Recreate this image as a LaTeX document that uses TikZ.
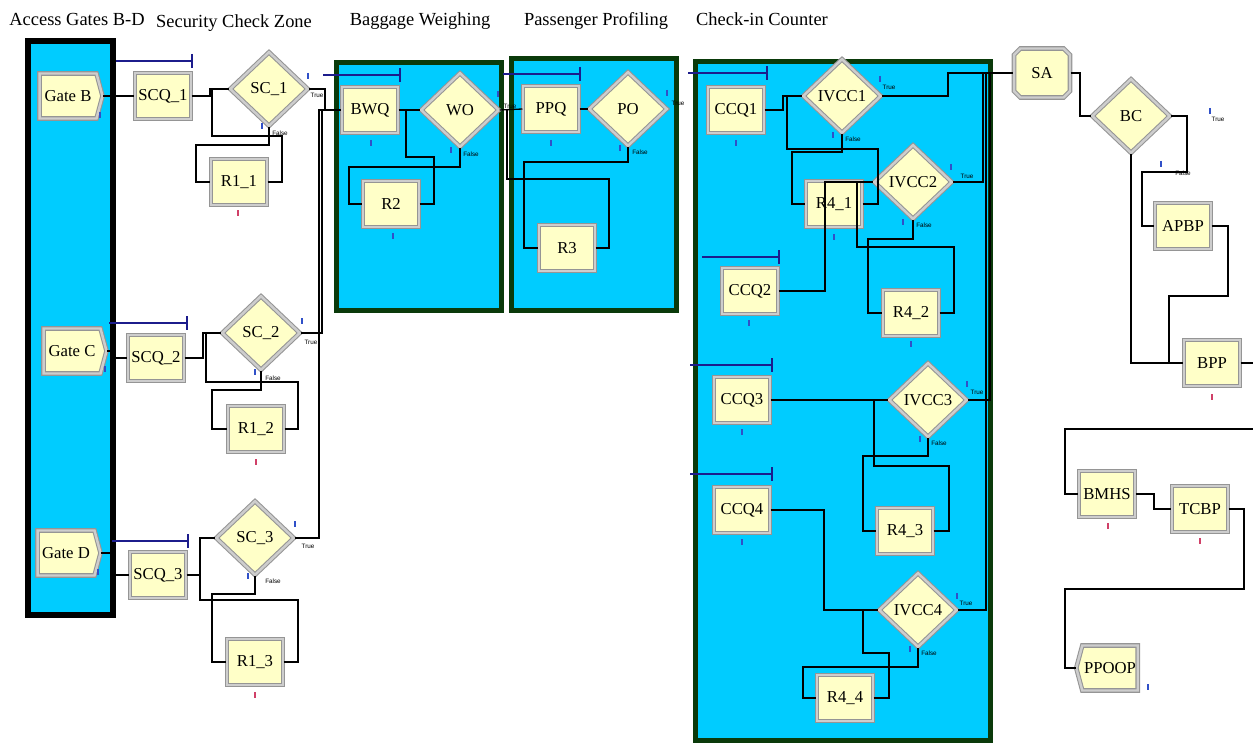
\documentclass[tikz,border=0pt]{standalone}
\usepackage{fontspec}
\setmainfont{Liberation Serif}
\setsansfont{Liberation Sans}
\usepackage{tikz}
\usetikzlibrary{shapes.geometric,shapes.symbols,shapes.misc}

\definecolor{zonecyan}{HTML}{00CCFF}
\definecolor{zonegreen}{HTML}{0A3A0A}
\definecolor{modyellow}{HTML}{FFFFC8}
\definecolor{modgray}{HTML}{959595}
\definecolor{modlight}{HTML}{CDCDCD}
\definecolor{qblue}{HTML}{1C1C8C}
\definecolor{mkblue}{HTML}{3050C8}
\definecolor{mkred}{HTML}{D04068}

\tikzset{
  modframe/.style={fill=modyellow,draw=modgray,double=modlight,double distance=1.4pt,line width=0.6pt,
    font=\fontsize{9.5}{10}\selectfont,inner sep=1pt},
  modbox/.style={modframe,rectangle,minimum width=1.12cm,minimum height=0.92cm},
  decbox/.style={modframe,diamond,minimum width=1.56cm,minimum height=1.48cm},
  gatebox/.style={modframe,signal,signal to=east,signal pointer angle=150,minimum width=1.26cm,minimum height=0.9cm},
  outbox/.style={modframe,signal,signal to=west,signal pointer angle=150,minimum width=1.22cm,minimum height=0.9cm},
  seizebox/.style={modframe,chamfered rectangle,chamfered rectangle xsep=1.8pt,chamfered rectangle ysep=1.8pt,minimum width=1.12cm,minimum height=0.98cm},
  wire/.style={draw=black,line width=0.75pt},
  qline/.style={draw=qblue,line width=0.7pt},
  zoneblack/.style={fill=zonecyan,draw=black,line width=0.12cm},
  zonegrn/.style={fill=zonecyan,draw=zonegreen,line width=0.1cm},
  title/.style={anchor=base,font=\fontsize{10.5}{12}\selectfont},
  tflab/.style={font=\sffamily\fontsize{3.6}{4}\selectfont,inner sep=0pt}
}

\begin{document}
\begin{tikzpicture}[x=0.02cm,y=-0.02cm]
\useasboundingbox (0,0) rectangle (1253,743);

\node[title] (tgates) at (77,26) {Access Gates B-D};
\node[title] (tsec) at (234,28) {Security Check Zone};
\node[title] (tbag) at (420,26) {Baggage Weighing};
\node[title] (tprof) at (596,26) {Passenger Profiling};
\node[title] (tcheck) at (762,26) {Check-in Counter};

\draw[zoneblack] (28,41) rectangle (113,615);
\draw[zonegrn] (336,63) rectangle (501,310);
\draw[zonegrn] (511,59) rectangle (676,310);
\draw[zonegrn] (695,62) rectangle (990,740);

\foreach\a/\b/\y in{116/192/61,109/187/323,112/188/541,323/400/75,503/580/74,688/767/73,702/779/257,690/772/365,690/772/474}{
  \draw[qline](\a,\y)--(\b,\y);\draw[qline](\b,\y-7)--(\b,\y+7);};

\node[gatebox] (gateb) at (68,96) {Gate B};
\node[gatebox] (gatec) at (72,351) {Gate C};
\node[gatebox] (gated) at (66,553) {Gate D};
\node[modbox] (scq1) at (163,96) {SCQ\_1};
\node[modbox] (scq2) at (156,358) {SCQ\_2};
\node[modbox] (scq3) at (158,575) {SCQ\_3};
\node[decbox] (sc1) at (269,89) {SC\_1};
\node[decbox] (sc2) at (261,333) {SC\_2};
\node[decbox] (sc3) at (255,538) {SC\_3};
\node[modbox] (r11) at (239,182) {R1\_1};
\node[modbox] (r12) at (256,429) {R1\_2};
\node[modbox] (r13) at (255,662) {R1\_3};

\node[modbox] (bwq) at (370,110) {BWQ};
\node[decbox] (wo) at (460,110) {WO};
\node[modbox] (r2) at (391,204) {R2};
\node[modbox] (ppq) at (551,109) {PPQ};
\node[decbox] (po) at (628,109) {PO};
\node[modbox] (r3) at (567,248) {R3};

\node[modbox] (ccq1) at (736,110) {CCQ1};
\node[decbox] (ivcc1) at (842,96) {IVCC1};
\node[modbox] (r41) at (834,204) {R4\_1};
\node[decbox] (ivcc2) at (913,182) {IVCC2};
\node[modbox] (ccq2) at (750,291) {CCQ2};
\node[modbox] (r42) at (911,313) {R4\_2};
\node[modbox] (ccq3) at (742,400) {CCQ3};
\node[decbox] (ivcc3) at (928,400) {IVCC3};
\node[modbox] (r43) at (905,531) {R4\_3};
\node[modbox] (ccq4) at (742,510) {CCQ4};
\node[decbox] (ivcc4) at (918,610) {IVCC4};
\node[modbox] (r44) at (845,698) {R4\_4};

\node[seizebox] (sa) at (1042,73) {SA};
\node[decbox] (bc) at (1131,116) {BC};
\node[modbox] (apbp) at (1183,226) {APBP};
\node[modbox] (bpp) at (1212,363) {BPP};
\node[modbox] (bmhs) at (1107,494) {BMHS};
\node[modbox] (tcbp) at (1200,509) {TCBP};
\node[outbox] (ppoop) at (1110,668) {PPOOP};

\draw[wire](gateb)--(scq1);
\draw[wire](scq1.east)-|(210,89)--(sc1.west);
\draw[wire](sc1.south)|-(196,145)|-(r11.west);
\draw[wire](r11.east)-|(282,136)--(212,136)|-(sc1.west);
\draw[wire](sc1.east)-|(325,110)--(bwq.west);

\draw[wire](gatec.east)-|(112,358)--(scq2.west);
\draw[wire](scq2.east)-|(203,333)--(sc2.west);
\draw[wire](sc2.south)|-(212,390)|-(r12.west);
\draw[wire](r12.east)-|(298,382)--(206,382)|-(sc2.west);
\draw[wire](sc2.east)-|(322,110)--(bwq.west);

\draw[wire](gated.east)-|(112,575)--(scq3.west);
\draw[wire](scq3.east)-|(200,538)--(sc3.west);
\draw[wire](sc3.south)|-(212,594)|-(r13.west);
\draw[wire](r13.east)-|(298,600)-|(200,538);
\draw[wire](sc3.east)-|(319,110)--(bwq.west);

\draw[wire](bwq)--(wo);
\draw[wire](wo.south)|-(349,167)|-(r2.west);
\draw[wire](r2.east)-|(434,157)-|(406,110);
\draw[wire](wo.east)--(ppq.west);
\draw[wire](ppq)--(po);
\draw[wire](po.south)|-(524,162)|-(r3.west);
\draw[wire](r3.east)-|(609,179)-|(507,109);

\draw[wire](ccq1.east)-|(783,96)--(ivcc1.west);
\draw[wire](ivcc1.south)|-(792,152)|-(r41.west);
\draw[wire](r41.east)-|(878,149)-|(787,96);
\draw[wire](ccq2.east)-|(825,182)--(ivcc2.west);
\draw[wire](ivcc2.south)|-(868,239)|-(r42.west);
\draw[wire](r42.east)-|(954,247)-|(857,182);
\draw[wire](ccq3)--(ivcc3);
\draw[wire](ivcc3.south)|-(863,456)|-(r43.west);
\draw[wire](r43.east)-|(949,466)-|(874,400);
\draw[wire](ccq4.east)-|(824,610)--(ivcc4.west);
\draw[wire](ivcc4.south)|-(803,667)|-(r44.west);
\draw[wire](r44.east)-|(889,653)-|(863,610);
\draw[wire](ivcc1.east)-|(948,73)--(sa.west);
\draw[wire](ivcc2.east)-|(983,73);
\draw[wire](ivcc3.east)-|(990,73);
\draw[wire](ivcc4.east)-|(986,73);

\draw[wire](sa.east)-|(1080,116)--(bc.west);
\draw[wire](bc.east)-|(1187,172)-|(1142,226)--(apbp.west);
\draw[wire](bc.south)|-(bpp.west);
\draw[wire](apbp.east)-|(1228,296)-|(1169,363);
\coordinate (bppout) at (1253,363);
\coordinate (bmhsin) at (1253,429);
\draw[wire](bpp.east)--(bppout);
\draw[wire](bmhsin)-|(1065,494)--(bmhs.west);
\draw[wire](bmhs.east)-|(1154,509)--(tcbp.west);
\draw[wire](tcbp.east)-|(1244,589)-|(1065,668)--(ppoop.west);

\foreach\x/\y in{100/112,105/366,98/569,262/123,308/73,302/318,255/369,295/521,248/573,371/140,451/147,498/91,393/233,551/140,620/145,667/90,736/140,833/132,880/76,903/219,951/164,834/234,749/320,911/341,742/429,920/436,967/381,742/539,910/646,957/593,1161/161,1210/108,1148/684}
  {\draw[mkblue,line width=1pt](\x,\y)--++(0,6);};
\foreach\x/\y in{238/210,256/459,255/692,1212/394,1108/523,1200/538}
  {\draw[mkred,line width=1pt](\x,\y)--++(0,6);};

\foreach\x/\y/\t[count=\i] in{317/95/True,280/133/False,311/342/True,273/378/False,308/546/True,273/581/False,
  510/106/True,471/154/False,678/103/True,640/152/False,889/87/True,853/139/False,967/176/True,924/225/False,
  977/392/True,939/443/False,966/603/True,929/653/False,1218/119/True,1183/173/False}
  {\node[tflab] (tf\i) at (\x,\y) {\t};};
\end{tikzpicture}
\end{document}
